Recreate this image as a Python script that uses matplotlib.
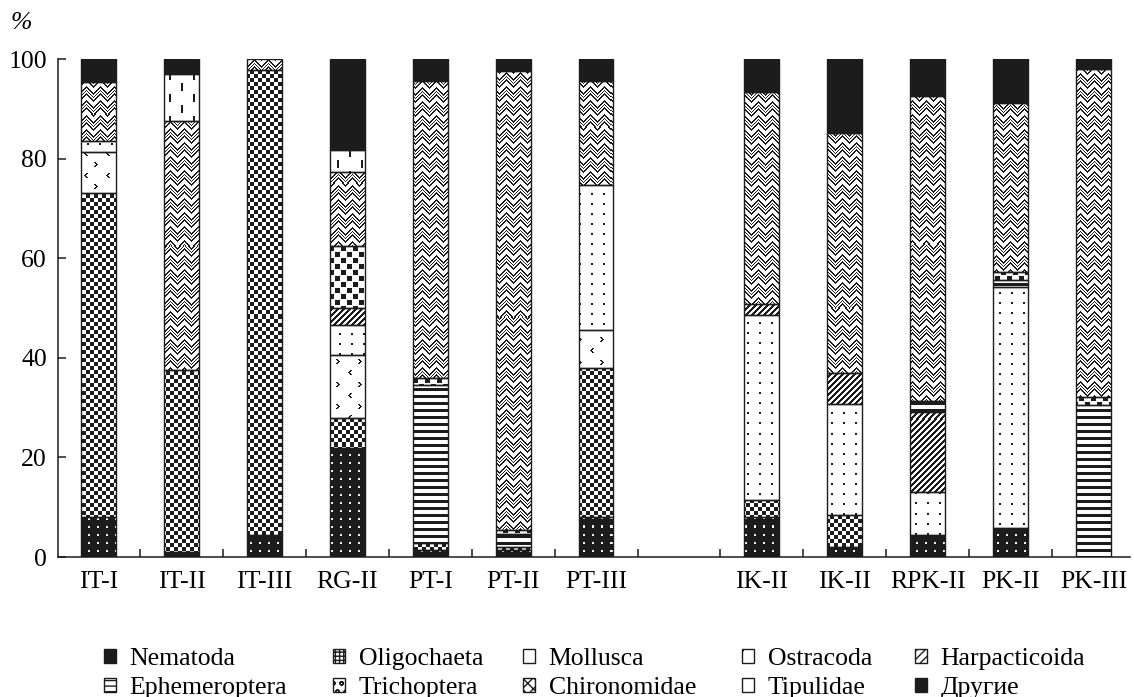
import numpy as np
import matplotlib
matplotlib.use("Agg")
import matplotlib.pyplot as plt
from matplotlib.colors import ListedColormap
from matplotlib.patches import Patch

plt.rcParams['font.family'] = ['Liberation Serif', 'DejaVu Serif']

# Composition of zoobenthos by station, % of total
sites = ['IT-I', 'IT-II', 'IT-III', 'RG-II', 'PT-I', 'PT-II', 'PT-III',
         'IK-II', 'IK-II', 'RPK-II', 'PK-II', 'PK-III']

nematoda      = [8.0, 1.0, 4.4, 21.8, 1.5, 1.5, 8.1, 8.1, 2.1, 4.4, 5.8, 0.0]
oligochaeta   = [65.1, 36.5, 93.4, 6.1, 1.3, 0.5, 29.8, 3.3, 6.3, 0.0, 0.0, 0.0]
mollusca      = [8.2, 0.0, 0.0, 12.7, 0.0, 0.0, 7.7, 0.0, 0.0, 0.0, 0.0, 0.0]
ostracoda     = [2.2, 0.0, 0.0, 6.0, 0.0, 0.0, 29.1, 37.2, 22.4, 8.7, 48.5, 0.0]
harpacticoida = [0.0, 0.0, 0.0, 3.4, 0.0, 0.0, 0.0, 2.3, 6.1, 16.1, 0.0, 0.0]
ephemeroptera = [0.0, 0.0, 0.0, 0.0, 31.7, 2.6, 0.0, 0.0, 0.0, 2.1, 1.3, 30.5]
trichoptera   = [0.0, 0.0, 0.0, 12.4, 1.4, 0.8, 0.0, 0.0, 0.0, 0.0, 1.7, 1.7]
chironomidae  = [11.9, 50.1, 2.2, 15.0, 59.6, 92.2, 20.9, 42.5, 48.2, 61.3, 33.8, 65.8]
tipulidae     = [0.0, 9.4, 0.0, 4.3, 0.0, 0.0, 0.0, 0.0, 0.0, 0.0, 0.0, 0.0]
drugie        = [4.6, 3.0, 0.0, 18.3, 4.5, 2.4, 4.4, 6.6, 14.9, 7.4, 8.9, 2.0]

taxa = ['Nematoda', 'Oligochaeta', 'Mollusca', 'Ostracoda', 'Harpacticoida',
        'Ephemeroptera', 'Trichoptera', 'Chironomidae', 'Tipulidae', 'Другие']
series = [nematoda, oligochaeta, mollusca, ostracoda, harpacticoida,
          ephemeroptera, trichoptera, chironomidae, tipulidae, drugie]

INK = '#1c1c1c'
FS = 18.5


# --- bitmap fill patterns (1 = ink) ---
def tile_nematoda():
    t = np.ones((8, 9))
    t[3:5, 3:5] = 0
    return t


def tile_checker():
    i, j = np.indices((8, 8))
    return ((i // 4 + j // 4) % 2).astype(float)


def tile_mollusca():
    t = np.zeros((22, 22))
    for r, c in [(4, 6), (5, 5), (6, 4), (7, 5), (8, 6)]:
        t[r, c:c + 2] = 1
    for r, c in [(15, 14), (16, 15), (17, 16), (18, 15), (19, 14)]:
        t[r, c:c + 2] = 1
    return t


def tile_ostracoda():
    t = np.zeros((10, 12))
    t[4:6, 5:7] = 1
    return t


def tile_diag():
    i, j = np.indices((6, 6))
    return (((i + j) % 6) < 3).astype(float)


def tile_hlines():
    t = np.zeros((7, 1))
    t[0:3] = 1
    return t


def tile_squares():
    t = np.zeros((12, 12))
    t[1:6, 1:6] = 1
    t[7:12, 7:12] = 1
    return t


def tile_herringbone():
    i, j = np.indices((14, 14))
    loc = j % 7
    left = (j < 7) & (((i - loc) % 7) < 2)
    right = (j >= 7) & (((i + loc) % 7) < 2)
    dots = ((i - loc) % 7 == 4) & ((i + j) % 2 == 0) & (j < 7)
    dots |= ((i + loc) % 7 == 4) & ((i + j) % 2 == 0) & (j >= 7)
    return (left | right | dots).astype(float)


def tile_dashes():
    t = np.zeros((22, 24))
    t[2:10, 3:5] = 1
    t[13:21, 15:17] = 1
    return t


def tile_solid():
    return np.ones((2, 2))


tiles = [tile_nematoda(), tile_checker(), tile_mollusca(), tile_ostracoda(),
         tile_diag(), tile_hlines(), tile_squares(), tile_herringbone(),
         tile_dashes(), tile_solid()]

# legend icons (hatch approximations of the fills)
legend_style = [
    dict(facecolor=INK, hatch=None),
    dict(facecolor='white', hatch='++++'),
    dict(facecolor='white', hatch=None),
    dict(facecolor='white', hatch='.'),
    dict(facecolor='white', hatch='////'),
    dict(facecolor='white', hatch='---'),
    dict(facecolor='white', hatch='oo'),
    dict(facecolor='white', hatch='xxx'),
    dict(facecolor='white', hatch=None),
    dict(facecolor=INK, hatch=None),
]

fig = plt.figure(figsize=(11.34, 6.97), dpi=100)
ax = fig.add_axes([58 / 1134, 140 / 697, 1072 / 1134, 498 / 697])

xpos = np.delete(np.arange(13), 7).astype(float)
xlim = (-0.49, 12.44)
ylim = (0, 100)
width = 0.42

# pixel grid of the axes, used to lay the patterns out 1:1 with screen pixels
W = 1072
H = 498
cmap = ListedColormap(['white', INK])


def texture(tile):
    ry = H // tile.shape[0] + 1
    rx = W // tile.shape[1] + 1
    return np.tile(tile, (ry, rx))[:H, :W]


bottoms = np.zeros(len(sites))
for vals, tile in zip(series, tiles):
    vals = np.asarray(vals)
    tex = texture(tile)
    for xi, h, b in zip(xpos, vals, bottoms):
        if h <= 0:
            continue
        rect = ax.bar(xi, h, width, bottom=b, facecolor='none',
                      edgecolor=INK, linewidth=1.0, zorder=3)[0]
        im = ax.imshow(tex, extent=(xlim[0], xlim[1], ylim[0], ylim[1]),
                       cmap=cmap, vmin=0, vmax=1, interpolation='nearest',
                       aspect='auto', origin='upper', zorder=2)
        im.set_clip_path(rect)
    bottoms += vals

ax.set_xlim(*xlim)
ax.set_ylim(*ylim)
ax.set_aspect('auto')

for side in ['top', 'right']:
    ax.spines[side].set_visible(False)
for side in ['left', 'bottom']:
    ax.spines[side].set_linewidth(1.1)
    ax.spines[side].set_color(INK)

ax.set_xticks(xpos)
ax.set_xticklabels(sites)
ax.set_xticks(np.arange(0.5, 12, 1.0), minor=True)
ax.tick_params(axis='x', which='major', length=0, pad=10, labelsize=FS)
ax.tick_params(axis='x', which='minor', direction='in', length=6, width=1.1, color=INK)
ax.set_yticks(np.arange(0, 101, 20))
ax.tick_params(axis='y', direction='in', length=6, width=1.1, color=INK,
               pad=8, labelsize=FS)

fig.text(21 / 1134, 1 - 23 / 697, '%', fontsize=FS, fontstyle='italic',
         ha='center', va='center')

# legend laid out in two rows of five
icon_x = [104, 333, 523, 742, 915]
row_y = [659, 688]
for k, (name, st) in enumerate(zip(taxa, legend_style)):
    row, col = divmod(k, 5)
    h = Patch(facecolor=st['facecolor'], edgecolor=INK, hatch=st['hatch'], linewidth=1.0)
    fig.legend(handles=[h], labels=[name], loc='center left',
               bbox_to_anchor=(icon_x[col] / 1134, 1 - row_y[row] / 697),
               frameon=False, borderpad=0, borderaxespad=0,
               handlelength=0.45, handleheight=0.45, handletextpad=0.55,
               fontsize=FS)

fig.savefig('out.png', dpi=100)
